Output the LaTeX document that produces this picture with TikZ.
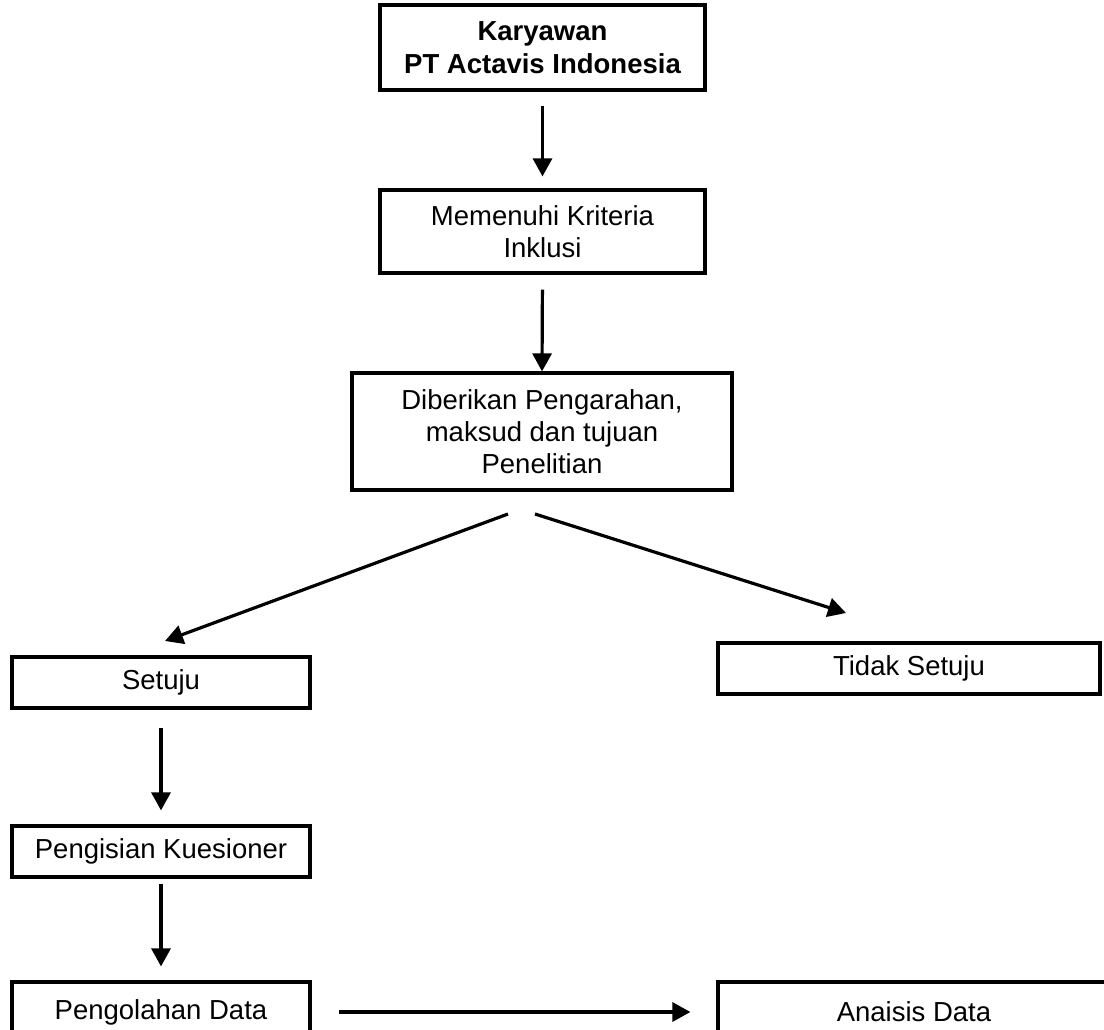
\documentclass[tikz,border=0pt]{standalone}
\usepackage{fontspec}
\setmainfont{Liberation Sans}
\usetikzlibrary{arrows.meta,calc}
\begin{document}
\begin{tikzpicture}[x=1pt,y=-1pt,
  box/.style={draw=black,line width=3.2pt,align=center,inner sep=0pt,
    font=\fontsize{27.5}{32}\selectfont},
  conn/.style={line width=3.2pt,-{Triangle[length=18pt,width=19pt]}}]
\useasboundingbox (0,0) rectangle (1104,1030);
\clip (0,0) rectangle (1104,1030);
\fill[white] (0,0) rectangle (1104,1030);
% boxes
\node[box,minimum width=325pt,minimum height=85pt,font=\fontsize{27.5}{33}\selectfont\bfseries]
  (k1) at (542.5,47.5) {Karyawan\\PT Actavis Indonesia};
\node[box,minimum width=325pt,minimum height=83pt] (k2) at (542.5,231.5) {Memenuhi Kriteria\\Inklusi};
\node[box,minimum width=380pt,minimum height=117pt] (k3) at (542,431.5) {Diberikan Pengarahan,\\maksud dan tujuan\\Penelitian};
\node[box,minimum width=298pt,minimum height=51pt] (setuju) at (161,682.5) {Setuju};
\node[box,minimum width=382pt,minimum height=51pt] (tidak) at (909,668.5) {Tidak Setuju};
\node[box,minimum width=298pt,minimum height=51pt] (isi) at (161,851.5) {Pengisian Kuesioner};
\node[box,minimum width=298pt,minimum height=60pt] (olah) at (161,1012) {Pengolahan Data};
\node[box,minimum width=392pt,minimum height=60pt] (anal) at (914,1012) {Anaisis Data};
% free ends of the diagonal connectors
\coordinate (dl0) at (508,514);
\coordinate (dl1) at (165,641);
\coordinate (dr0) at (535,514);
\coordinate (dr1) at (846,613);
% connectors
\draw[conn,shorten <=14pt,shorten >=12pt] (k1.south) -- (k2.north);
\draw[conn,shorten <=15pt,shorten >=0pt] (k2.south) -- (k3.north);
\draw[conn] (dl0) -- (dl1);
\draw[conn] (dr0) -- (dr1);
\draw[conn,shorten <=18pt,shorten >=14pt] (setuju.south) -- (isi.north);
\draw[conn,shorten <=5pt,shorten >=14pt] (isi.south) -- (olah.north);
\draw[conn,shorten <=27pt,shorten >=26pt] (olah.east) -- (anal.west);
\end{tikzpicture}
\end{document}
